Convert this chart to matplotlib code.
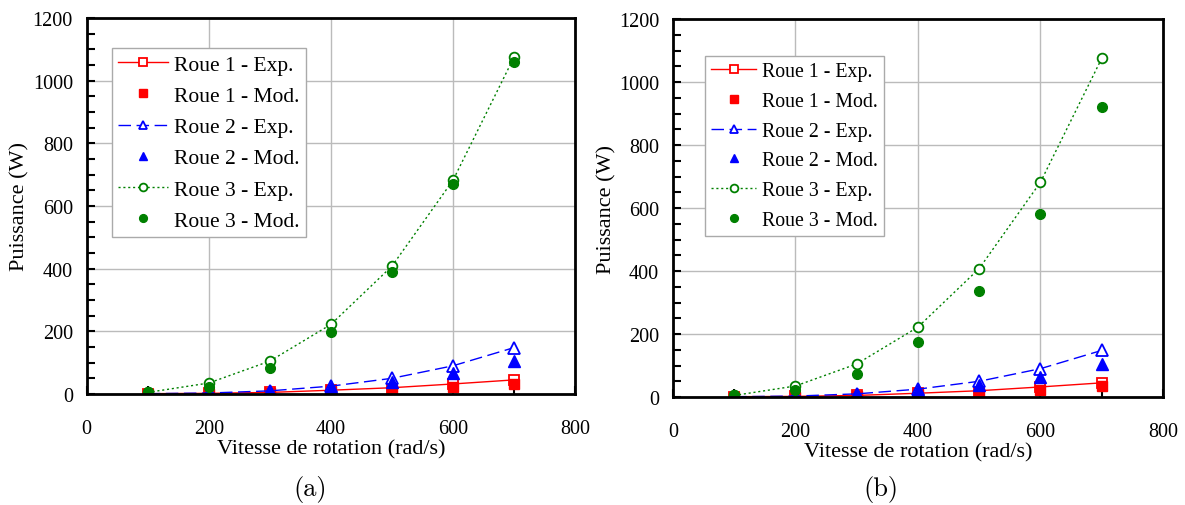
import numpy as np
import matplotlib
matplotlib.use("Agg")
import matplotlib.pyplot as plt
from matplotlib.ticker import MultipleLocator

plt.rcParams['font.family'] = ['Liberation Serif', 'DejaVu Serif']

# ================================================================
# DONNÉES
# ================================================================
vitesse = [100, 200, 300, 400, 500, 600, 700]

roue1_exp = [1, 2, 5, 12, 20, 32, 45]
roue2_exp = [1, 3, 10, 25, 50, 90, 148]
roue3_exp = [5, 35, 105, 222, 408, 682, 1075]

# (a)
roue1_mod_a = [0, 1, 4, 8, 13, 22, 33]
roue2_mod_a = [1, 2, 8, 22, 38, 68, 105]
roue3_mod_a = [5, 22, 83, 198, 390, 670, 1060]

# (b)
roue1_mod_b = [0, 1, 4, 8, 13, 22, 35]
roue2_mod_b = [1, 2, 8, 22, 38, 65, 105]
roue3_mod_b = [5, 22, 72, 175, 337, 580, 920]

panneaux = [
    ("(a)", [0.0732, 0.2194, 0.4121, 0.7431], roue1_mod_a, roue2_mod_a, roue3_mod_a,
     (0.051, 0.920), 15.5, 0.52, 0.262),
    ("(b)", [0.5679, 0.2134, 0.4135, 0.7470], roue1_mod_b, roue2_mod_b, roue3_mod_b,
     (0.065, 0.903), 14.3, 0.55, 0.743),
]

fig = plt.figure(figsize=(11.85, 5.06), dpi=100)

for lettre, pos, m1, m2, m3, leg_xy, leg_fs, leg_sp, x_lettre in panneaux:
    ax = fig.add_axes(pos)
    ax.plot(vitesse, roue1_exp, '-', color='red', lw=1, marker='s', ms=7,
            mfc='white', mec='red', mew=1.3, label='Roue 1 - Exp.')
    ax.plot(vitesse, m1, 's', color='red', ms=7, ls='none', label='Roue 1 - Mod.')
    ax.plot(vitesse, roue2_exp, color='blue', lw=1, ls=(0, (9, 4)), marker='^', ms=8,
            mfc='white', mec='blue', mew=1.3, label='Roue 2 - Exp.')
    ax.plot(vitesse, m2, '^', color='blue', ms=8, ls='none', label='Roue 2 - Mod.')
    ax.plot(vitesse, roue3_exp, color='green', lw=1, ls=(0, (1.5, 2)), marker='o', ms=7,
            mfc='white', mec='green', mew=1.3, label='Roue 3 - Exp.')
    ax.plot(vitesse, m3, 'o', color='green', ms=7, ls='none', label='Roue 3 - Mod.')

    ax.set_xlim(0, 800)
    ax.set_ylim(0, 1200)
    ax.xaxis.set_major_locator(MultipleLocator(200))
    ax.xaxis.set_minor_locator(MultipleLocator(100))
    ax.yaxis.set_major_locator(MultipleLocator(200))
    ax.yaxis.set_minor_locator(MultipleLocator(50))
    ax.grid(True, which='major', color='#bbbbbb', lw=1)
    ax.set_axisbelow(True)
    ax.tick_params(which='both', direction='in', width=1.5, colors='black')
    ax.tick_params(which='major', length=6)
    ax.tick_params(which='minor', length=6)
    ax.tick_params(axis='x', pad=18, labelsize=14.5)
    ax.tick_params(axis='y', pad=10, labelsize=14.5)
    for s in ax.spines.values():
        s.set_linewidth(2)

    ax.set_xlabel("Vitesse de rotation (rad/s)", fontsize=16, labelpad=1)
    ax.set_ylabel("Puissance (W)", fontsize=16, labelpad=2)

    leg = ax.legend(loc='upper left', bbox_to_anchor=leg_xy, borderaxespad=0,
                    fontsize=leg_fs, fancybox=False, framealpha=1, edgecolor='#aaaaaa',
                    handlelength=2.3, handletextpad=0.3, labelspacing=leg_sp,
                    borderpad=0.3, markerscale=0.8)
    leg.get_frame().set_linewidth(1)

    fig.text(x_lettre, 0.032, lettre, ha='center', va='center', fontsize=19,
             family=['cmr10', 'DejaVu Serif'])

plt.savefig("out.png", dpi=100)
